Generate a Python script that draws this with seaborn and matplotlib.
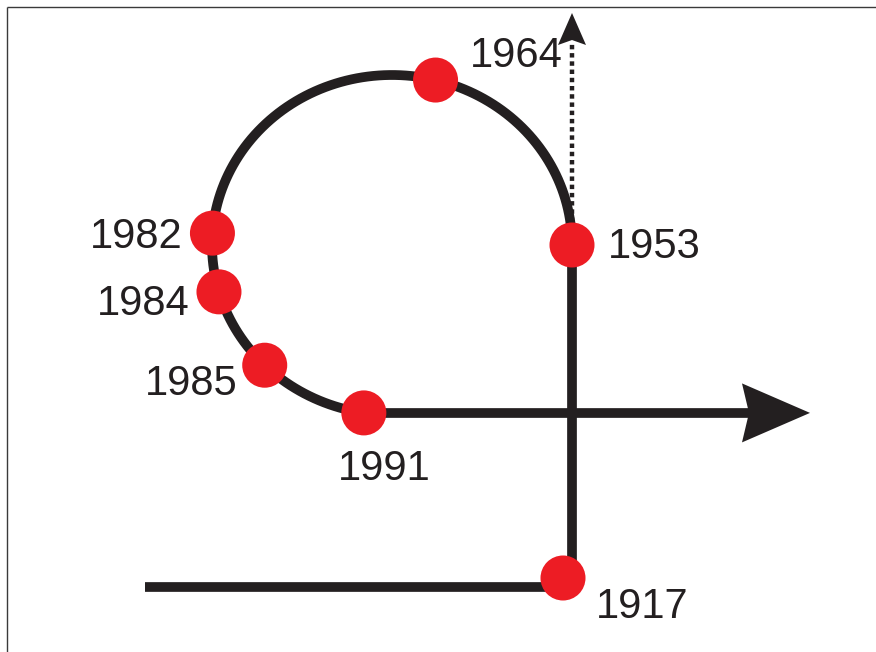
import numpy as np
import pandas as pd
import matplotlib
matplotlib.use("Agg")
import matplotlib.pyplot as plt
import seaborn as sns
from matplotlib.patches import Polygon

sns.set_theme(style="white")
plt.rcParams['font.family'] = ['Liberation Sans', 'DejaVu Sans']

INK = "#231F20"
RED = "#ED1C24"

# ---- data (diagram coordinates, y grows downward) ----
loop_center_x = 392
loop_center_y = 245
loop_radius_x = 180
loop_radius_y = 170

loop_years = ["1953", "1964", "1982", "1984", "1985", "1991"]
loop_angles = [0, 76, 176, 196, 225, 261]           # degrees along the loop
label_x = [608, 470, 183, 190, 238, 384]
label_y = [258, 67, 248, 315, 395, 480]              # baselines
label_ha = ["left", "left", "right", "right", "right", "center"]

start_year = "1917"
start_x = 563
start_y = 578
start_label_x = 596
start_label_y = 618

tail_x = [145, 563]
tail_y = [587, 587]

exit_end_x = 750          # horizontal arrow shaft end
arrow_tip_x = 810
dotted_top_y = 42
dotted_bottom_y = 222
up_tip_y = 13

# ---- figure ----
fig = plt.figure(figsize=(8.76, 6.52), dpi=100)
ax = fig.add_axes([0, 0, 1, 1])
ax.set_xlim(0, 876)
ax.set_ylim(652, 0)
ax.axis("off")

LW = 7.0

def line(xs, ys, **kw):
    sns.lineplot(x=xs, y=ys, sort=False, estimator=None, ax=ax,
                 color=kw.pop("color", INK), linewidth=kw.pop("lw", LW),
                 solid_capstyle="butt", **kw)

# frame
line([6.5, 876], [7.3, 7.3], color="#3a3a3a", lw=1.0)
line([6.5, 6.5], [7.3, 652], color="#3a3a3a", lw=1.0)

# tail
line(tail_x, tail_y)

# vertical rise from 1917 to 1953
line([loop_center_x + loop_radius_x] * 2, [start_y, loop_center_y])

# loop arc
t = np.radians(np.linspace(0, loop_angles[-1], 300))
arc_x = loop_center_x + loop_radius_x * np.cos(t)
arc_y = loop_center_y - loop_radius_y * np.sin(t)
line(list(arc_x), list(arc_y))

# exit to the right
end_x = arc_x[-1]
end_y = arc_y[-1]
line([end_x, exit_end_x], [end_y, end_y])

def head(tx, ty, dx, dy, L, W, notch):
    px, py = -dy, dx
    pts = [(tx, ty),
           (tx - L * dx + W * px, ty - L * dy + W * py),
           (tx - (L - notch) * dx, ty - (L - notch) * dy),
           (tx - L * dx - W * px, ty - L * dy - W * py)]
    ax.add_patch(Polygon(pts, closed=True, facecolor=INK, edgecolor="none", zorder=3))

head(arrow_tip_x, end_y, 1, 0, 68, 29.5, 7)

# dotted upward line
vx = loop_center_x + loop_radius_x
sns.lineplot(x=[vx, vx], y=[dotted_bottom_y, dotted_top_y], sort=False,
             estimator=None, ax=ax, color=INK, linewidth=3.2,
             linestyle=(0, (1.0, 0.85)), dash_capstyle="butt")
head(vx, up_tip_y, 0, -1, 32, 14, 5)

# dots
ang = np.radians(np.array(loop_angles, dtype=float))
dots = pd.DataFrame({
    "x": list(loop_center_x + loop_radius_x * np.cos(ang)) + [start_x],
    "y": list(loop_center_y - loop_radius_y * np.sin(ang)) + [start_y],
    "year": loop_years + [start_year],
})
sns.scatterplot(data=dots, x="x", y="y", ax=ax, s=1050, color=RED,
                edgecolor="none", linewidth=0, zorder=5, legend=False)

# labels
for yr, lx, ly, ha in zip(loop_years, label_x, label_y, label_ha):
    ax.text(lx, ly, yr, fontsize=30, color=INK, ha=ha, va="baseline")
ax.text(start_label_x, start_label_y, start_year, fontsize=30, color=INK,
        ha="left", va="baseline")

fig.savefig("out.png", dpi=100)
